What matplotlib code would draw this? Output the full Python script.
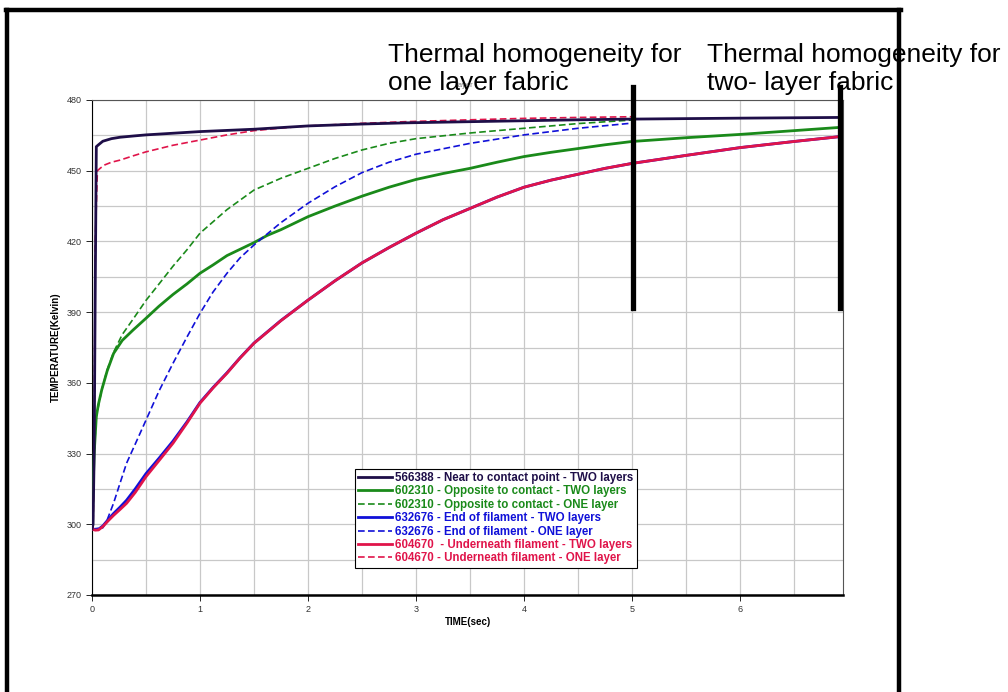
import matplotlib
matplotlib.use("Agg")
import matplotlib.pyplot as plt
from matplotlib.lines import Line2D

plt.rcParams['font.family'] = ['Liberation Sans', 'DejaVu Sans']

# --- data ---
t_near2 = [0, 0.01, 0.02, 0.03, 0.04, 0.06, 0.1, 0.18, 0.26, 0.4, 0.5, 0.75, 1.0, 1.25, 1.5, 1.75,
           2.0, 2.5, 2.9, 3.5, 4.0, 4.5, 5.0, 6.0, 6.93]
T_near2 = [298, 300, 330, 400, 460.2, 461, 462.5, 463.6, 464.2, 464.8, 465.2, 465.9, 466.6, 467.1, 467.6, 468.3,
           469.0, 469.8, 470.3, 470.8, 471.2, 471.6, 471.9, 472.3, 472.6]

t_opp2 = [0, 0.01, 0.02, 0.04, 0.06, 0.09, 0.14, 0.2, 0.28, 0.38, 0.5, 0.62, 0.75, 0.88, 1.0, 1.12, 1.25,
          1.5, 1.62, 1.75, 2.0, 2.25, 2.5, 2.75, 3.0, 3.25, 3.5, 3.75, 4.0, 4.25, 4.5, 4.75, 5.0,
          5.5, 6.0, 6.5, 6.93]
T_opp2 = [298, 315, 330, 345.7, 351, 357, 365, 372.5, 378, 382.4, 387.4, 392.5, 397.5, 402, 406.5, 410, 414,
          419.5, 422.5, 425, 430.5, 435, 439.2, 443, 446.3, 448.8, 451, 453.6, 456, 457.8, 459.4, 461, 462.4,
          464, 465.4, 467, 468.4]

t_opp1 = [0, 0.01, 0.02, 0.04, 0.09, 0.14, 0.2, 0.28, 0.38, 0.5, 0.63, 0.75, 0.88, 1.0, 1.25, 1.5, 1.75,
          2.0, 2.25, 2.5, 2.75, 3.0, 3.5, 4.0, 4.5, 5.0]
T_opp1 = [298, 315, 330, 345.7, 357, 365.5, 373, 380.5, 387, 395, 402.5, 409.5, 416.5, 423.5, 433.5, 441.8, 446.8,
          451, 455.2, 458.8, 461.6, 463.6, 466, 468, 470, 471.5]

t_end2 = [0, 0.03, 0.06, 0.1, 0.15, 0.2, 0.26, 0.32, 0.4, 0.5, 0.62, 0.75, 0.88, 1.0, 1.12, 1.25, 1.37,
          1.5, 1.75, 2.0, 2.25, 2.5, 2.75, 3.0, 3.25, 3.5, 3.75, 4.0, 4.25, 4.5, 4.75, 5.0, 5.5, 6.0, 6.5, 6.93]
T_end2 = [298, 297.8, 297.9, 299.3, 302, 304.6, 307.3, 310.2, 315, 321.5, 328, 335.3, 343.5, 351.7, 358, 364.3, 370.6,
          376.9, 386.5, 395.1, 403.3, 410.9, 417.4, 423.5, 429.2, 434, 438.8, 443, 446, 448.5, 451, 453.1,
          456.5, 459.8, 462.4, 464.5]

t_end1 = [0, 0.1, 0.14, 0.2, 0.26, 0.32, 0.4, 0.5, 0.62, 0.75, 0.88, 1.0, 1.12, 1.25, 1.37, 1.5, 1.62, 1.75,
          2.0, 2.25, 2.5, 2.75, 3.0, 3.5, 4.0, 4.5, 4.98]
T_end1 = [298, 298.5, 301.8, 309, 317.5, 325.9, 334, 344.2, 356.5, 368.3, 379.5, 389.5, 398.5, 406.5, 413, 418.5,
          423.1, 428, 436.2, 443.2, 449.2, 453.6, 457, 461.6, 465.2, 468, 470.1]

t_und2 = [0, 0.03, 0.06, 0.1, 0.15, 0.2, 0.26, 0.32, 0.4, 0.5, 0.62, 0.75, 0.88, 1.0, 1.12, 1.25, 1.37,
          1.5, 1.75, 2.0, 2.25, 2.5, 2.75, 3.0, 3.25, 3.5, 3.75, 4.0, 4.25, 4.5, 4.75, 5.0, 5.5, 6.0, 6.5, 6.93]
T_und2 = [298, 297.5, 297.6, 299, 301.5, 303.8, 306.3, 308.9, 313.5, 320.2, 327, 334.4, 343, 351.4, 357.8, 364.1, 370.5,
          376.8, 386.4, 395.1, 403.3, 410.9, 417.4, 423.5, 429.2, 434, 438.8, 443, 446, 448.5, 451, 453.1,
          456.5, 459.8, 462.4, 464.5]

t_und1 = [0, 0.01, 0.02, 0.03, 0.05, 0.08, 0.12, 0.18, 0.26, 0.38, 0.5, 0.75, 1.0, 1.25, 1.5, 1.75,
          2.0, 2.5, 2.9, 3.5, 4.0, 4.5, 5.0]
T_und1 = [298, 297.5, 330, 420, 450, 451.2, 452.5, 453.6, 454.5, 456.3, 458, 460.8, 463, 465.2, 467, 468.1,
          469, 470.1, 470.8, 471.6, 472.2, 472.6, 472.9]

labels = [
    "566388 - Near to contact point - TWO layers",
    "602310 - Opposite to contact - TWO layers",
    "602310 - Opposite to contact - ONE layer",
    "632676 - End of filament - TWO layers",
    "632676 - End of filament - ONE layer",
    "604670  - Underneath filament - TWO layers",
    "604670 - Underneath filament - ONE layer",
]

x_ticks = [0, 1, 2, 3, 4, 5, 6]
y_ticks = [270, 300, 330, 360, 390, 420, 450, 480]
marker_times = [5.01, 6.93]

navy = "#1e0e48"
green = "#1a8a1a"
blue = "#1010d8"
red = "#e0144a"

fig = plt.figure(figsize=(10.08, 6.92), dpi=100)
ax = fig.add_axes([92 / 1008, 97 / 692, 751.3 / 1008, 495 / 692])

lw_solid = 2.0
lw_dash = 1.2
dash = (0, (4, 2))
ax.plot(t_end2, T_end2, color=blue, lw=lw_solid, label=labels[3], zorder=3)
ax.plot(t_und2, T_und2, color=red, lw=lw_solid, label=labels[5], zorder=4)
ax.plot(t_opp2, T_opp2, color=green, lw=lw_solid, label=labels[1], zorder=3)
ax.plot(t_opp1, T_opp1, color=green, lw=lw_dash, ls=dash, label=labels[2], zorder=3)
ax.plot(t_end1, T_end1, color=blue, lw=lw_dash, ls=dash, label=labels[4], zorder=3)
ax.plot(t_und1, T_und1, color=red, lw=lw_dash, ls=dash, label=labels[6], zorder=4)
ax.plot(t_near2, T_near2, color=navy, lw=lw_solid, label=labels[0], zorder=5)

ax.set_xlim(0, 6.956)
ax.set_ylim(270, 480)
ax.set_xticks(x_ticks)
ax.set_yticks(y_ticks)
ax.set_xticks([v + 0.5 for v in x_ticks], minor=True)
ax.set_yticks([v + 15 for v in y_ticks[:-1]], minor=True)
ax.grid(True, which="both", color="#c8c8c8", lw=0.9)
ax.set_axisbelow(True)
ax.tick_params(which="major", labelsize=6.5, labelcolor="#333333", length=4, width=0.6)
ax.tick_params(which="minor", length=0)
for side in ["top", "right"]:
    ax.spines[side].set_color("#555555")
    ax.spines[side].set_linewidth(0.8)
ax.spines["left"].set_linewidth(0.8)
ax.spines["bottom"].set_linewidth(1.8)

ax.set_xlabel("TIME(sec)", fontsize=7, fontweight="bold", labelpad=2)
ax.set_ylabel("TEMPERATURE(Kelvin)", fontsize=7, fontweight="bold", labelpad=4)

# legend in the original order
handles, labs = ax.get_legend_handles_labels()
order = [labs.index(l) for l in labels]
leg = ax.legend([handles[i] for i in order], [labs[i] for i in order],
                loc="lower left", bbox_to_anchor=(0.35, 0.055), borderaxespad=0,
                prop={"weight": "bold", "size": 8.3},
                handlelength=2.9, handletextpad=0.3, labelspacing=0.12,
                borderpad=0.3, fancybox=False, framealpha=1,
                edgecolor="black")
leg.get_frame().set_linewidth(0.8)
for txt, h in zip(leg.get_texts(), leg.legend_handles):
    txt.set_color(h.get_color())

# thick marker bars for the homogeneity points
for mt in marker_times:
    ax.plot([mt, mt], [391.8, 485.5], color="black", lw=3.8, clip_on=False, zorder=6)

ax.text(3.45, 484.5, "layer", fontsize=5.5, color="#777777", ha="center", va="bottom")

fig.text(388 / 1008, 1 - 90 / 692, "Thermal homogeneity for\none layer fabric",
         fontsize=19, ha="left", va="baseline", linespacing=1.22)
fig.text(707 / 1008, 1 - 90 / 692, "Thermal homogeneity for\ntwo- layer fabric",
         fontsize=19, ha="left", va="baseline", linespacing=1.22)

# outer frame
fw = 3.2
fig.add_artist(Line2D([7 / 1008, 7 / 1008], [0, 1 - 10 / 692], color="black", lw=fw, transform=fig.transFigure))
fig.add_artist(Line2D([5.5 / 1008, 900.5 / 1008], [1 - 10 / 692, 1 - 10 / 692], color="black", lw=fw, transform=fig.transFigure))
fig.add_artist(Line2D([899 / 1008, 899 / 1008], [0, 1 - 10 / 692], color="black", lw=fw, transform=fig.transFigure))

fig.savefig("out.png", dpi=100)
